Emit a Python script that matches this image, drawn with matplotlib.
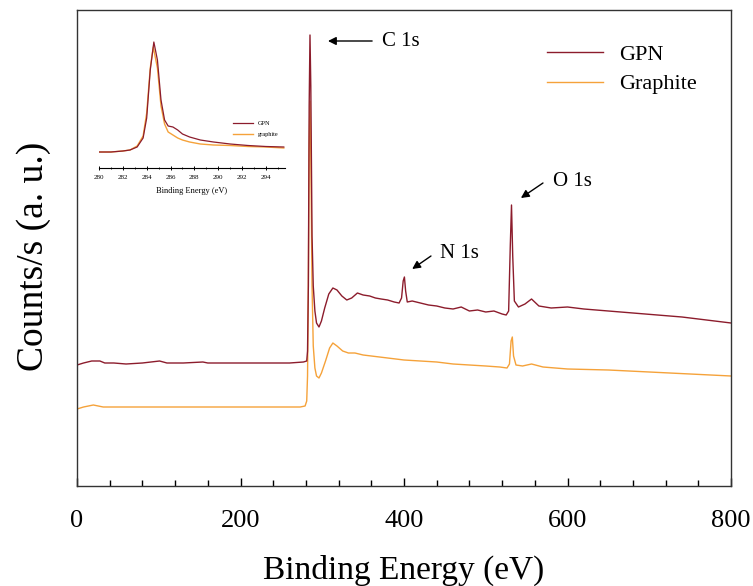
import matplotlib
matplotlib.use("Agg")
import matplotlib.pyplot as plt
from matplotlib.ticker import MultipleLocator

# ---------------- data ----------------
# main survey spectrum: binding energy (eV) and intensity (a.u.)
gpn_ev = [0, 8, 18, 28, 34, 45, 60, 80, 101, 110, 130, 154, 160, 180, 200, 220, 240, 260, 277,
          281, 282, 283, 284, 285, 286, 287.5, 289, 291, 293, 296, 299, 303, 308, 313, 318, 324,
          330, 336, 343, 350, 358, 365, 372, 380, 388, 394, 397, 399, 400.5, 402, 404, 410, 420,
          430, 440, 450, 460, 470, 480, 490, 500, 510, 520, 525, 528, 530, 531.5, 533, 535, 540,
          548, 556, 565, 580, 600, 620, 650, 680, 710, 740, 770, 800]
gpn_val = [121, 123, 125, 125, 123, 123, 122, 123, 125, 123, 123, 124, 123, 123, 123, 123, 123, 123, 124,
           125, 135, 200, 380, 451, 400, 250, 200, 175, 163, 159, 165, 178, 192, 198, 196, 190,
           186, 188, 193, 191, 190, 188, 187, 186, 184, 183, 188, 205, 209, 195, 184, 185, 183,
           181, 180, 178, 177, 179, 175, 176, 174, 175, 172, 171, 175, 240, 281, 230, 185, 179,
           182, 187, 180, 178, 179, 177, 175, 173, 171, 169, 166, 163]

gra_ev = [0, 8, 20, 32, 45, 60, 80, 100, 130, 160, 200, 240, 273, 279,
          281, 282, 283, 284, 285, 286, 287.5, 289, 291, 293, 296, 299, 304, 309, 313, 318, 325,
          332, 340, 350, 360, 380, 400, 420, 440, 460, 480, 500, 517, 526, 529, 531, 532.5, 534,
          537, 545, 556, 570, 600, 650, 700, 750, 800]
gra_val = [77, 79, 81, 79, 79, 79, 79, 79, 79, 79, 79, 79, 79, 80,
           85, 110, 200, 340, 385, 330, 200, 140, 118, 110, 108, 113, 125, 138, 143, 140, 135,
           133, 133, 131, 130, 128, 126, 125, 124, 122, 121, 120, 119, 118, 122, 145, 149, 130,
           121, 120, 122, 119, 117, 116, 114, 112, 110]

# inset: C 1s high-resolution region
in_gpn_ev = [280, 281, 282, 282.6, 283.2, 283.7, 284.0, 284.3, 284.6, 284.9, 285.2, 285.5, 285.8,
             286.2, 286.6, 287.0, 287.6, 288.5, 289.6, 291, 292.5, 294, 295.5]
in_gpn_val = [16, 16, 17, 18, 21, 30, 50, 98, 126, 108, 68, 48, 42,
              41, 38, 34, 31, 28, 26, 24, 22.5, 21.5, 21]
in_gra_ev = [280, 281, 282, 282.6, 283.2, 283.7, 284.0, 284.3, 284.55, 284.9, 285.2, 285.5, 285.8,
             286.2, 286.6, 287.0, 287.6, 288.5, 289.6, 291, 292.5, 294, 295.5]
in_gra_val = [16, 16, 17, 18, 22, 32, 55, 100, 121, 100, 62, 44, 36,
              33, 30, 28, 26, 24, 23, 22.5, 21.5, 21, 20]

series_labels = ["GPN", "Graphite"]
inset_labels = ["GPN", "graphite"]
peak_labels = ["C 1s", "N 1s", "O 1s"]

# ---------------- styling ----------------
RED = "#8C1C2C"
ORANGE = "#F5A23A"
SERIF = ["Liberation Serif", "DejaVu Serif"]
plt.rcParams["font.family"] = SERIF

W, H = 753, 586
fig = plt.figure(figsize=(W / 100, H / 100), dpi=100)

def fx(px):
    return px / W

def fy(py):
    return (H - py) / H

ax = fig.add_axes([fx(77), fy(486), fx(731) - fx(77), fy(10) - fy(486)])
ax.plot(gra_ev, gra_val, color=ORANGE, lw=1.0, label=series_labels[1])
ax.plot(gpn_ev, gpn_val, color=RED, lw=1.0, label=series_labels[0])
ax.set_xlim(0, 800)
ax.set_ylim(0, 476)
ax.xaxis.set_major_locator(MultipleLocator(200))
ax.xaxis.set_minor_locator(MultipleLocator(40))
ax.tick_params(axis="x", which="major", direction="in", length=6, width=1, labelsize=19, pad=17)
ax.tick_params(axis="x", which="minor", direction="in", length=4, width=1)
ax.set_yticks([])
for s in ax.spines.values():
    s.set_color("#333333")
    s.set_linewidth(1.0)
ax.set_xlabel("Binding Energy (eV)", fontsize=24, labelpad=17)
ax.set_ylabel("Counts/s (a. u.)", fontsize=27)
ax.yaxis.set_label_coords(-0.040, 0.483)

# legend (handles reversed so GPN first)
h, l = ax.get_legend_handles_labels()
leg = ax.legend(h[::-1], l[::-1], loc="upper left", bbox_to_anchor=(fx(547), fy(44)),
                bbox_transform=fig.transFigure, frameon=False, fontsize=16,
                handlelength=2.5, handletextpad=0.75, labelspacing=0.42,
                borderpad=0, borderaxespad=0)

# annotations
arrow = dict(arrowstyle="-|>", color="black", lw=1.0, mutation_scale=12, shrinkA=0, shrinkB=0)
ax.annotate("", xy=(307, 445), xytext=(361, 445), arrowprops=arrow)
ax.text(373, 445, peak_labels[0], fontsize=15, va="center", ha="left")
ax.annotate("", xy=(410, 217), xytext=(433, 230), arrowprops=arrow)
ax.text(444, 233, peak_labels[1], fontsize=15, va="center", ha="left")
ax.annotate("", xy=(543, 288), xytext=(570, 303), arrowprops=arrow)
ax.text(582, 304, peak_labels[2], fontsize=15, va="center", ha="left")

# inset
axi = fig.add_axes([fx(99), fy(168), fx(285) - fx(99), fy(40) - fy(168)])
axi.set_facecolor("none")
axi.plot(in_gra_ev, in_gra_val, color=ORANGE, lw=1.0, label=inset_labels[1])
axi.plot(in_gpn_ev, in_gpn_val, color=RED, lw=0.9, label=inset_labels[0])
axi.set_xlim(280, 295.6)
axi.set_ylim(0, 128)
axi.xaxis.set_major_locator(MultipleLocator(2))
axi.xaxis.set_minor_locator(MultipleLocator(1))
axi.set_yticks([])
for side in ["left", "right", "top"]:
    axi.spines[side].set_visible(False)
axi.spines["bottom"].set_linewidth(0.8)
axi.tick_params(axis="x", which="major", direction="inout", length=3, width=0.7, labelsize=5, pad=3.5)
axi.tick_params(axis="x", which="minor", direction="inout", length=2, width=0.6)
axi.set_xlabel("Binding Energy (eV)", fontsize=6, labelpad=5)
hi, li = axi.get_legend_handles_labels()
axi.legend(hi[::-1], li[::-1], loc="upper left", bbox_to_anchor=(fx(233), fy(121)),
           bbox_transform=fig.transFigure, frameon=False, fontsize=4.5,
           handlelength=3.2, handletextpad=0.8, labelspacing=0.9,
           borderpad=0, borderaxespad=0)

fig.savefig("out.png", dpi=100)
